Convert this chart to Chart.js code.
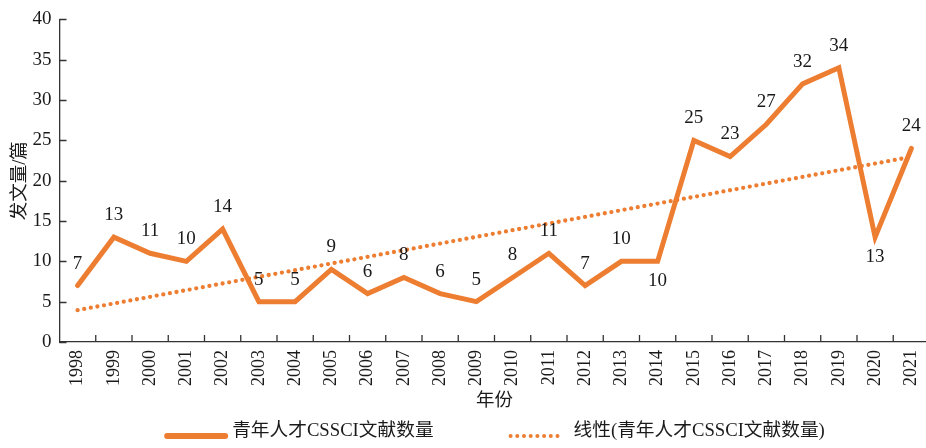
<!DOCTYPE html>
<html>
<head>
<meta charset="utf-8">
<script src="https://cdn.jsdelivr.net/npm/chart.js@4.4.1/dist/chart.umd.min.js"></script>
<style>
	html, body { margin: 0; padding: 0; background: #fff; overflow: hidden; }
	#wrap { width: 941px; height: 448px; }
</style>
</head>
<body>
<div id="wrap"><canvas id="chart"></canvas></div>
<script>

const years = ['1998', '1999', '2000', '2001', '2002', '2003', '2004', '2005', '2006', '2007', '2008', '2009',
	'2010', '2011', '2012', '2013', '2014', '2015', '2016', '2017', '2018', '2019', '2020', '2021'];
const papers = [7, 13, 11, 10, 14, 5, 5, 9, 6, 8, 6, 5, 8, 11, 7, 10, 10, 25, 23, 27, 32, 34, 13, 24];
// trend line ends
const trendStart = 3.95;
const trendEnd = 22.95;
const yTicks = [0, 5, 10, 15, 20, 25, 30, 35, 40];

const seriesName = '青年人才CSSCI文献数量';
const trendName = '线性(青年人才CSSCI文献数量)';

const orange = '#ED7D31';
const axisColor = '#333333';
const textColor = '#1a1a1a';
const font = "'Liberation Serif', 'Noto Sans CJK SC', serif";

const trend = years.map((y, i) => i === 0 ? trendStart : (i === years.length - 1 ? trendEnd : null));

// labels drawn under the point instead of above
const labelsBelow = [16, 22];

const innerTicks = {
	id: 'innerTicks',
	afterDraw(chart) {
		const ctx = chart.ctx;
		const x = chart.scales.x;
		const y = chart.scales.y;
		ctx.save();
		ctx.strokeStyle = axisColor;
		ctx.lineWidth = 1.3;
		ctx.beginPath();
		yTicks.forEach(v => {
			const py = Math.round(y.getPixelForValue(v)) + 0.5;
			ctx.moveTo(y.right, py);
			ctx.lineTo(y.right + 7, py);
		});
		for (let i = 1; i < years.length; i++) {
			const px = (x.getPixelForValue(i - 1) + x.getPixelForValue(i)) / 2;
			ctx.moveTo(px, x.top);
			ctx.lineTo(px, x.top - 7);
		}
		ctx.stroke();
		ctx.restore();
	}
};

const pointLabels = {
	id: 'pointLabels',
	afterDatasetsDraw(chart) {
		const ctx = chart.ctx;
		const meta = chart.getDatasetMeta(0);
		ctx.save();
		ctx.fillStyle = textColor;
		ctx.font = '19px ' + font;
		ctx.textAlign = 'center';
		ctx.textBaseline = 'middle';
		meta.data.forEach((pt, i) => {
			const below = labelsBelow.includes(i);
			ctx.fillText(String(papers[i]), pt.x, below ? pt.y + 20 : pt.y - 22);
		});
		ctx.restore();
	}
};

// legend drawn by hand so the swatches and the gap between the items match
const bottomLegend = {
	id: 'bottomLegend',
	afterDraw(chart) {
		const ctx = chart.ctx;
		const area = chart.chartArea;
		const items = chart.data.datasets.map(ds => ({
			text: ds.label,
			color: ds.borderColor,
			dash: ds.borderDash || [],
			width: ds.borderWidth
		}));
		const swatchW = [64, 58];
		const gapText = [4, 8];
		const gapItem = 74;
		const centerX = (area.left + area.right) / 2;
		const y = 436;
		ctx.save();
		ctx.font = '18.7px ' + font;
		const widths = items.map((it, i) => swatchW[i] + gapText[i] + ctx.measureText(it.text).width);
		let x = centerX - (widths[0] + gapItem + widths[1]) / 2;
		items.forEach((it, i) => {
			ctx.strokeStyle = it.color;
			ctx.lineWidth = i === 0 ? 6 : 4;
			ctx.lineCap = 'round';
			ctx.setLineDash(it.dash);
			ctx.beginPath();
			ctx.moveTo(x + 3, y);
			ctx.lineTo(x + swatchW[i] - 3, y);
			ctx.stroke();
			ctx.setLineDash([]);
			ctx.fillStyle = textColor;
			ctx.textAlign = 'left';
			ctx.textBaseline = 'middle';
			ctx.fillText(it.text, x + swatchW[i] + gapText[i], y - 5);
			x += widths[i] + gapItem;
		});
		ctx.restore();
	}
};

const ctx = document.getElementById('chart').getContext('2d');

const chart = new Chart(ctx, {
	type: 'line',
	data: {
		labels: years,
		datasets: [
			{
				label: seriesName,
				data: papers,
				borderColor: orange,
				backgroundColor: orange,
				borderWidth: 5,
				pointRadius: 0,
				borderJoinStyle: 'miter',
				borderCapStyle: 'round',
				tension: 0
			},
			{
				label: trendName,
				data: trend,
				spanGaps: true,
				borderColor: orange,
				backgroundColor: orange,
				borderWidth: 4.3,
				borderDash: [0, 6.7],
				borderCapStyle: 'round',
				pointRadius: 0
			}
		]
	},
	options: {
		responsive: true,
		maintainAspectRatio: false,
		animation: false,
		layout: {
			padding: { top: 17, right: 1.5, left: 0, bottom: 36 }
		},
		plugins: {
			tooltip: { enabled: false },
			legend: { display: false }
		},
		scales: {
			x: {
				offset: true,
				grid: { display: false, drawTicks: false },
				border: { display: true, color: axisColor, width: 1.3 },
				ticks: {
					autoSkip: false,
					minRotation: 90,
					maxRotation: 90,
					padding: 8,
					color: textColor,
					font: { family: font, size: 18 }
				},
				title: {
					display: true,
					text: '年份',
					color: textColor,
					padding: { top: 2, bottom: 0 },
					font: { family: font, size: 18.5 }
				},
				afterFit: s => { s.height = 70; }
			},
			y: {
				min: 0,
				max: 40,
				afterBuildTicks: s => { s.ticks = yTicks.map(v => ({ value: v })); },
				grid: { display: false, drawTicks: false },
				border: { display: true, color: axisColor, width: 1.3 },
				ticks: {
					padding: 8,
					color: textColor,
					font: { family: font, size: 19 }
				},
				title: {
					display: true,
					text: '发文量/篇',
					color: textColor,
					padding: { top: 9, bottom: 0 },
					font: { family: font, size: 18.5 }
				},
				afterFit: s => { s.width = 59.5; }
			}
		}
	},
	plugins: [innerTicks, pointLabels, bottomLegend]
});

</script>
</body>
</html>
